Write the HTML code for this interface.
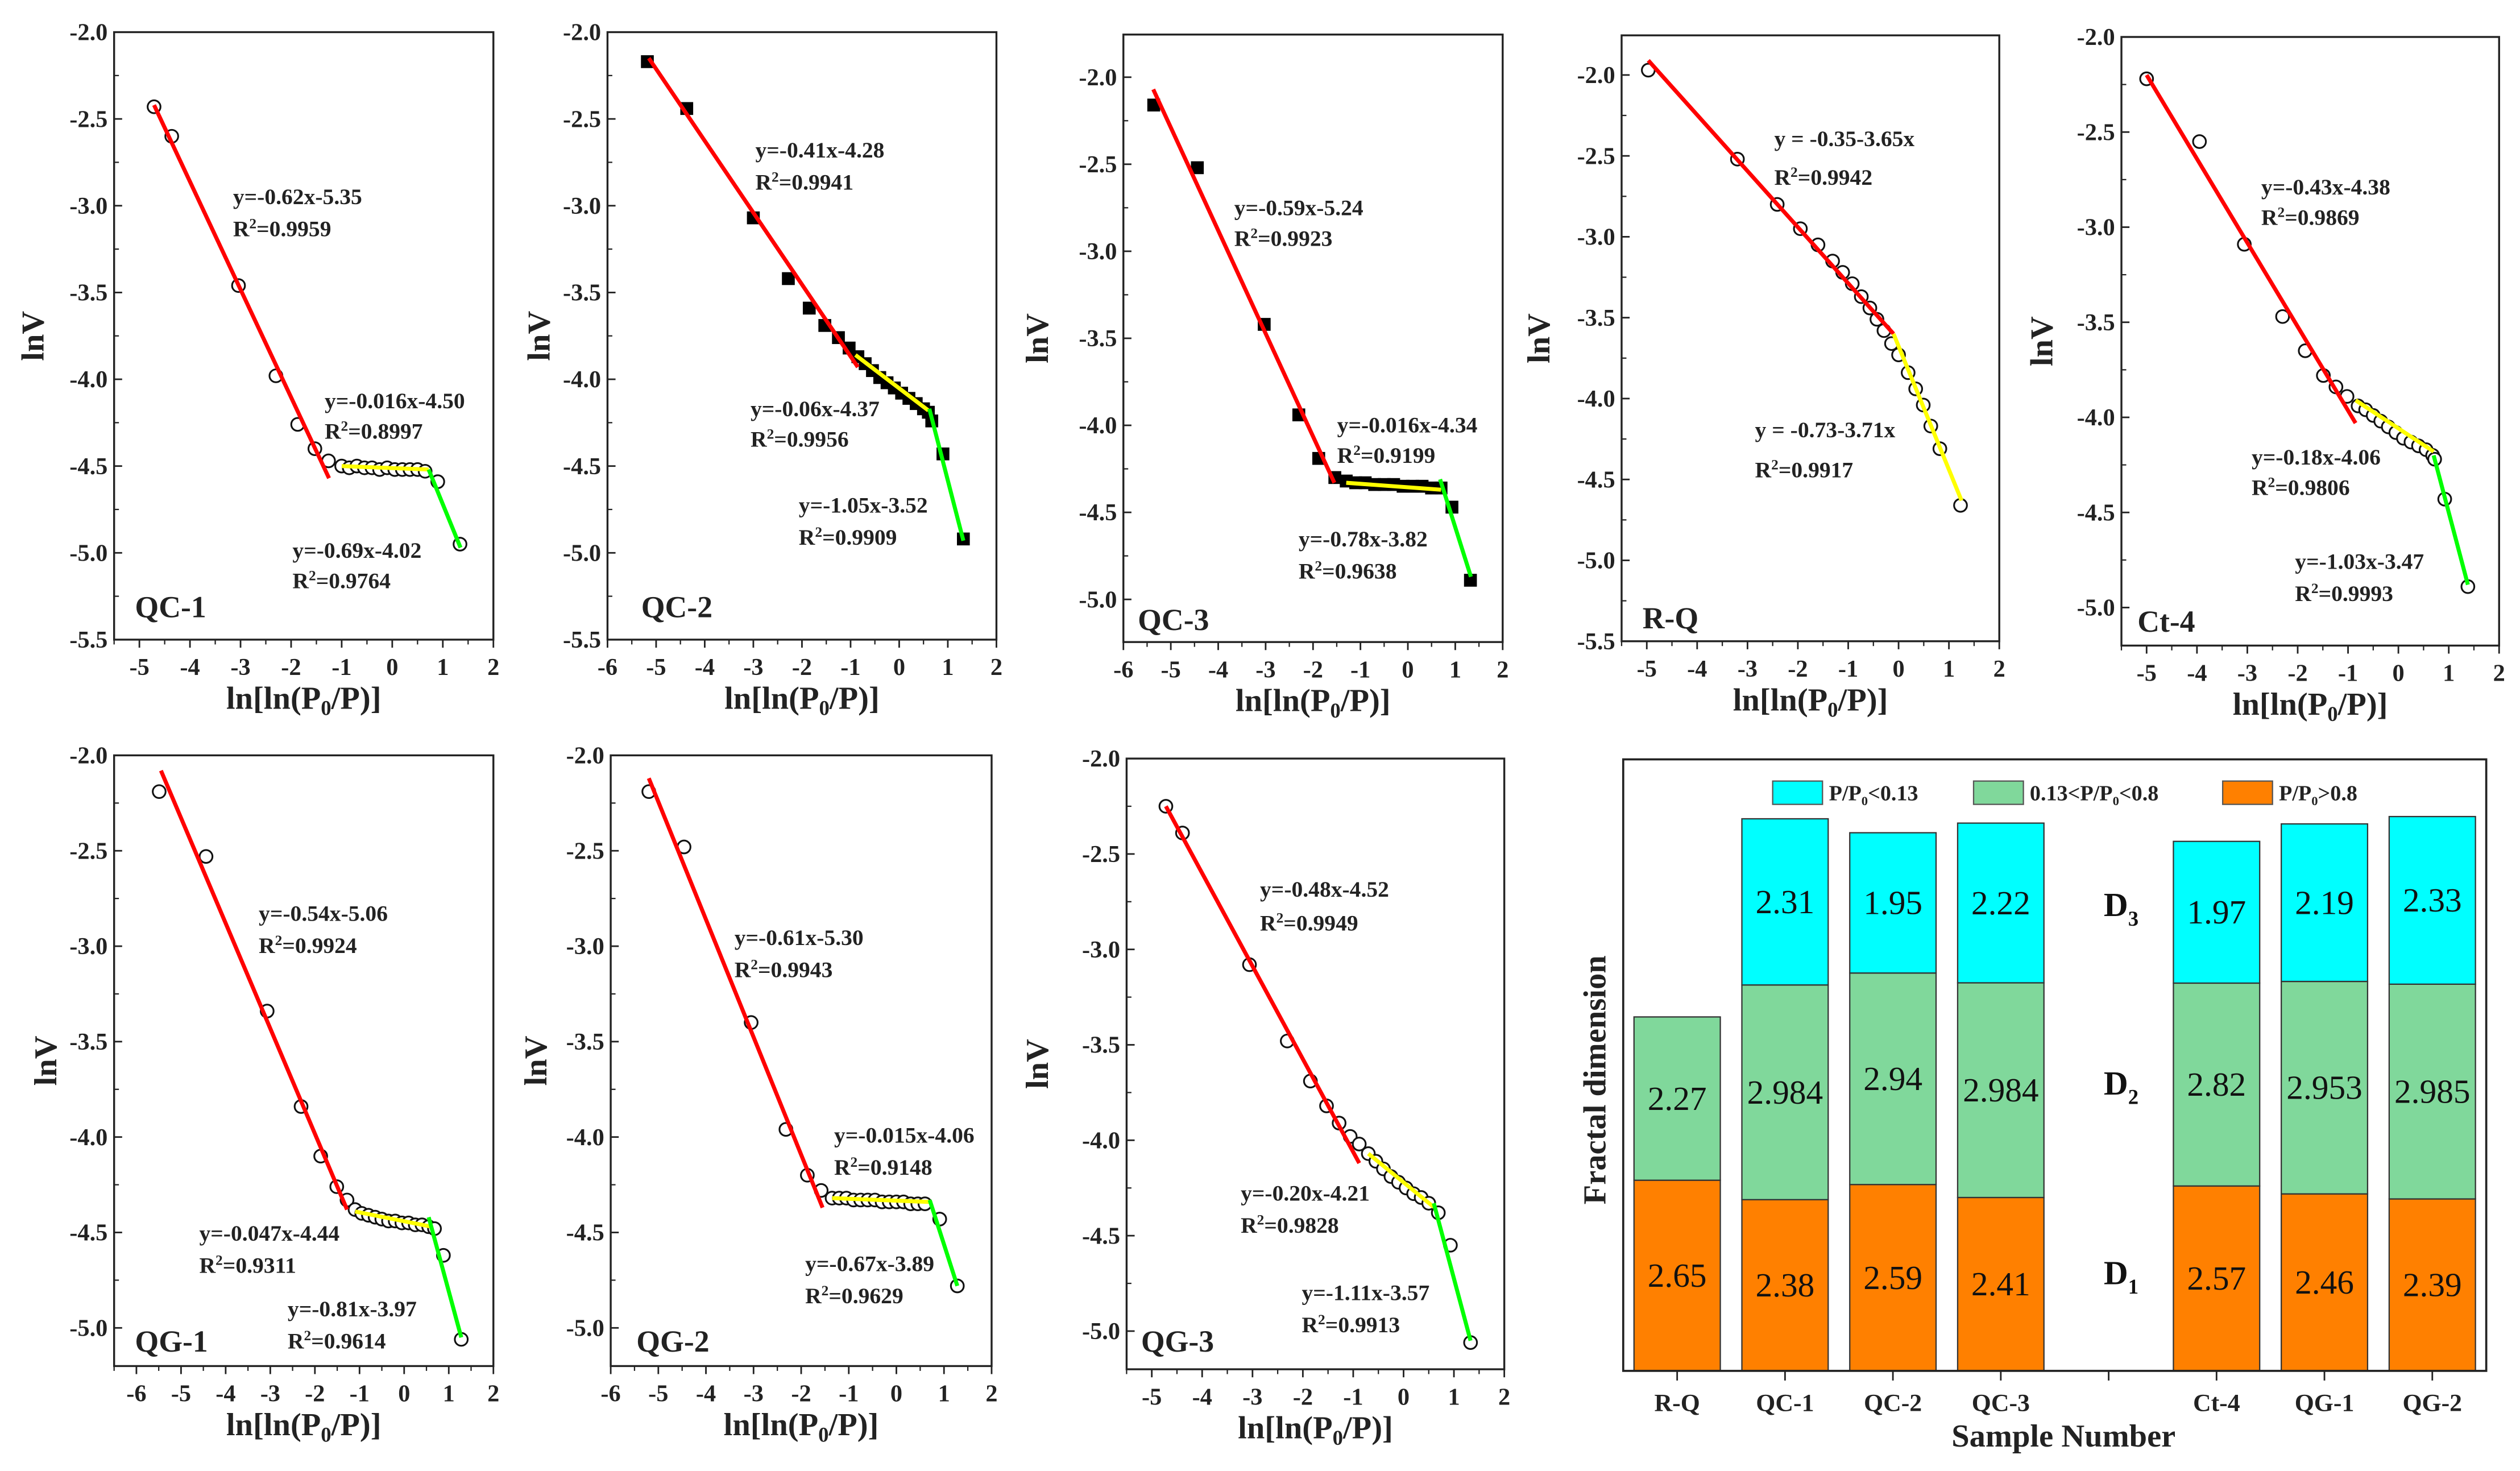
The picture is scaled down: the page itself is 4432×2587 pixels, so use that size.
<!DOCTYPE html>
<html><head><meta charset="utf-8"><style>
html,body{margin:0;padding:0;background:#fff;}
svg{display:block;}
text{font-family:"Liberation Serif",serif;}
</style></head><body>
<svg id="fig" xmlns="http://www.w3.org/2000/svg" width="4432" height="2587" viewBox="0 0 1568 915.3" preserveAspectRatio="none">
<rect x="0" y="0" width="1568" height="915.3" fill="#fff"/>
</svg>
<script>
// ---------- scatter data ----------
const qc1X=[-4.71,-4.36,-3.04,-2.30,-1.87,-1.53,-1.26,-1.0,-0.85,-0.7,-0.55,-0.4,-0.25,-0.1,0.05,0.2,0.35,0.5,0.65,0.90,1.34];
const qc1Y=[-2.43,-2.60,-3.46,-3.98,-4.26,-4.40,-4.47,-4.50,-4.51,-4.50,-4.51,-4.51,-4.52,-4.51,-4.52,-4.52,-4.52,-4.52,-4.53,-4.59,-4.95];
const qc1Fits=[[-4.71,-2.42,-1.25,-4.57],[-1.0,-4.50,0.72,-4.52],[0.72,-4.52,1.35,-4.97]];

const qc2X=[-5.18,-4.37,-3.0,-2.28,-1.85,-1.53,-1.25,-1.03,-0.85,-0.7,-0.55,-0.4,-0.25,-0.1,0.05,0.2,0.35,0.5,0.6,0.67,0.9,1.32];
const qc2Y=[-2.17,-2.44,-3.07,-3.42,-3.59,-3.69,-3.76,-3.82,-3.87,-3.91,-3.95,-3.99,-4.02,-4.05,-4.08,-4.11,-4.14,-4.17,-4.19,-4.24,-4.43,-4.92];
const qc2Fits=[[-5.15,-2.15,-0.85,-3.93],[-0.9,-3.86,0.6,-4.18],[0.62,-4.17,1.32,-4.93]];

const qc3X=[-5.36,-4.44,-3.03,-2.3,-1.88,-1.54,-1.3,-1.1,-0.9,-0.7,-0.5,-0.3,-0.1,0.1,0.3,0.5,0.7,0.93,1.32];
const qc3Y=[-2.16,-2.52,-3.42,-3.94,-4.19,-4.30,-4.32,-4.33,-4.33,-4.34,-4.34,-4.34,-4.35,-4.35,-4.35,-4.36,-4.36,-4.47,-4.89];
const qc3Fits=[[-5.37,-2.07,-1.55,-4.33],[-1.3,-4.33,0.7,-4.37],[0.68,-4.31,1.33,-4.87]];

const rqX=[-4.97,-3.2,-2.41,-1.95,-1.6,-1.31,-1.11,-0.92,-0.74,-0.57,-0.43,-0.29,-0.14,0.0,0.19,0.34,0.49,0.64,0.82,1.23];
const rqY=[-1.97,-2.52,-2.80,-2.95,-3.05,-3.15,-3.22,-3.29,-3.37,-3.44,-3.51,-3.58,-3.66,-3.73,-3.84,-3.94,-4.04,-4.17,-4.31,-4.66];
const rqFits=[[-4.97,-1.91,-0.1,-3.6],[-0.1,-3.6,1.25,-4.63]];

const ct4X=[-5.0,-3.95,-3.06,-2.30,-1.85,-1.49,-1.24,-1.02,-0.8,-0.65,-0.5,-0.35,-0.2,-0.05,0.1,0.25,0.4,0.55,0.68,0.72,0.92,1.38];
const ct4Y=[-2.22,-2.55,-3.09,-3.47,-3.65,-3.78,-3.84,-3.89,-3.94,-3.96,-3.99,-4.02,-4.05,-4.08,-4.11,-4.13,-4.15,-4.17,-4.20,-4.22,-4.43,-4.89];
const ct4Fits=[[-5.0,-2.2,-0.85,-4.03],[-0.85,-3.91,0.7,-4.18],[0.7,-4.2,1.38,-4.88]];

const qg1X=[-5.49,-4.44,-3.07,-2.31,-1.87,-1.51,-1.28,-1.1,-0.95,-0.8,-0.65,-0.5,-0.35,-0.2,-0.05,0.1,0.25,0.4,0.55,0.68,0.88,1.28];
const qg1Y=[-2.19,-2.53,-3.34,-3.84,-4.10,-4.26,-4.33,-4.38,-4.40,-4.41,-4.42,-4.43,-4.44,-4.44,-4.45,-4.45,-4.46,-4.46,-4.47,-4.48,-4.62,-5.06];
const qg1Fits=[[-5.45,-2.08,-1.28,-4.38],[-1.1,-4.39,0.62,-4.47],[0.55,-4.42,1.28,-5.05]];

const qg2X=[-5.2,-4.46,-3.05,-2.32,-1.87,-1.58,-1.35,-1.2,-1.05,-0.9,-0.75,-0.6,-0.45,-0.3,-0.15,0.0,0.15,0.3,0.45,0.6,0.91,1.28];
const qg2Y=[-2.19,-2.48,-3.40,-3.96,-4.20,-4.28,-4.32,-4.32,-4.32,-4.33,-4.33,-4.33,-4.33,-4.34,-4.34,-4.34,-4.34,-4.35,-4.35,-4.35,-4.43,-4.78];
const qg2Fits=[[-5.2,-2.12,-1.55,-4.37],[-1.35,-4.32,0.7,-4.34],[0.7,-4.33,1.28,-4.78]];

const qg3X=[-4.72,-4.39,-3.06,-2.31,-1.85,-1.53,-1.28,-1.06,-0.88,-0.7,-0.55,-0.4,-0.25,-0.1,0.05,0.2,0.35,0.5,0.69,0.93,1.33];
const qg3Y=[-2.25,-2.39,-3.08,-3.48,-3.69,-3.82,-3.91,-3.98,-4.02,-4.07,-4.11,-4.15,-4.19,-4.22,-4.25,-4.28,-4.30,-4.33,-4.38,-4.55,-5.06];
const qg3Fits=[[-4.72,-2.25,-0.88,-4.12],[-0.7,-4.07,0.6,-4.35],[0.6,-4.33,1.33,-5.05]];

// ---------- bar chart data ----------
const barCategories=['R-Q','QC-1','QC-2','QC-3','','Ct-4','QG-1','QG-2'];
const barD1=[2.65,2.38,2.59,2.41,0,2.57,2.46,2.39];
const barD2=[2.27,2.984,2.94,2.984,0,2.82,2.953,2.985];
const barD3=[0,2.31,1.95,2.22,0,1.97,2.19,2.33];
const barD1Labels=['2.65','2.38','2.59','2.41','','2.57','2.46','2.39'];
const barD2Labels=['2.27','2.984','2.94','2.984','','2.82','2.953','2.985'];
const barD3Labels=['','2.31','1.95','2.22','','1.97','2.19','2.33'];
const legendLabels=['P/P0<0.13','0.13<P/P0<0.8','P/P0>0.8'];

const NS='http://www.w3.org/2000/svg';
const svg=document.getElementById('fig');
function mk(tag,attrs,parent){const e=document.createElementNS(NS,tag);for(const k in attrs)e.setAttribute(k,attrs[k]);(parent||svg).appendChild(e);return e;}
function esc(s){return s.replace(/&/g,'&amp;').replace(/</g,'&lt;').replace(/>/g,'&gt;');}

const FITCOL=['#ff0000','#ffff00','#00ff00'];
const panels=[
 {id:'qc-1',name:'QC-1',x1:71,x2:307,y1:20,y2:398,xmin:-5.5,xmax:2,ymax:-2.0,ymin:-5.5,yt0:-2.0,yt1:-5.5,X:qc1X,Y:qc1Y,F:qc1Fits,sq:false,
  ann:[['y=-0.62x-5.35','0.9959',145,127,147],['y=-0.016x-4.50','0.8997',202,254,273],['y=-0.69x-4.02','0.9764',182,347,366]],lab:[84,384],ly:20},
 {id:'qc-2',name:'QC-2',x1:378,x2:620,y1:20,y2:398,xmin:-6,xmax:2,ymax:-2.0,ymin:-5.5,yt0:-2.0,yt1:-5.5,X:qc2X,Y:qc2Y,F:qc2Fits,sq:true,
  ann:[['y=-0.41x-4.28','0.9941',470,98,118],['y=-0.06x-4.37','0.9956',467,259,278],['y=-1.05x-3.52','0.9909',497,319,339]],lab:[399,384],ly:335},
 {id:'qc-3',name:'QC-3',x1:699,x2:935,y1:21.5,y2:399.5,xmin:-6,xmax:2,ymax:-1.755,ymin:-5.245,yt0:-2.0,yt1:-5.0,X:qc3X,Y:qc3Y,F:qc3Fits,sq:true,
  ann:[['y=-0.59x-5.24','0.9923',768,134,153],['y=-0.016x-4.34','0.9199',832,269,288],['y=-0.78x-3.82','0.9638',808,340,360]],lab:[708,392],ly:645},
 {id:'r-q',name:'R-Q',x1:1009,x2:1244,y1:22,y2:399,xmin:-5.5,xmax:2,ymax:-1.755,ymin:-5.5,yt0:-2.0,yt1:-5.5,X:rqX,Y:rqY,F:rqFits,sq:false,fitCols:['#ff0000','#ffff00'],
  ann:[['y = -0.35-3.65x','0.9942',1104,91,115],['y = -0.73-3.71x','0.9917',1092,272,297]],lab:[1022,391],ly:957},
 {id:'ct-4',name:'Ct-4',x1:1320,x2:1555,y1:23,y2:401.7,xmin:-5.5,xmax:2,ymax:-2.0,ymin:-5.2,yt0:-2.0,yt1:-5.0,X:ct4X,Y:ct4Y,F:ct4Fits,sq:false,
  ann:[['y=-0.43x-4.38','0.9869',1407,121,140],['y=-0.18x-4.06','0.9806',1401,289,308],['y=-1.03x-3.47','0.9993',1428,354,374]],lab:[1330,393],ly:1270},
 {id:'qg-1',name:'QG-1',x1:71,x2:307,y1:470,y2:850,xmin:-6.5,xmax:2,ymax:-2.0,ymin:-5.2,yt0:-2.0,yt1:-5.0,X:qg1X,Y:qg1Y,F:qg1Fits,sq:false,
  ann:[['y=-0.54x-5.06','0.9924',161,573,593],['y=-0.047x-4.44','0.9311',124,772,792],['y=-0.81x-3.97','0.9614',179,819,839]],lab:[84,841],ly:28},
 {id:'qg-2',name:'QG-2',x1:380,x2:617,y1:470,y2:850,xmin:-6,xmax:2,ymax:-2.0,ymin:-5.2,yt0:-2.0,yt1:-5.0,X:qg2X,Y:qg2Y,F:qg2Fits,sq:false,
  ann:[['y=-0.61x-5.30','0.9943',457,588,608],['y=-0.015x-4.06','0.9148',519,711,731],['y=-0.67x-3.89','0.9629',501,791,811]],lab:[396,841],ly:333},
 {id:'qg-3',name:'QG-3',x1:701,x2:936,y1:472,y2:852,xmin:-5.5,xmax:2,ymax:-2.0,ymin:-5.2,yt0:-2.0,yt1:-5.0,X:qg3X,Y:qg3Y,F:qg3Fits,sq:false,
  ann:[['y=-0.48x-4.52','0.9949',784,558,579],['y=-0.20x-4.21','0.9828',772,747,767],['y=-1.11x-3.57','0.9913',810,809,829]],lab:[710,841],ly:645}
];

panels.forEach(p=>{
  const g=mk('g',{});
  
  
  const sx=v=>p.x1+(v-p.xmin)/(p.xmax-p.xmin)*(p.x2-p.x1);
  const sy=v=>p.y1+(p.ymax-v)/(p.ymax-p.ymin)*(p.y2-p.y1);
  const fr=mk('rect',{x:p.x1,y:p.y1,width:p.x2-p.x1,height:p.y2-p.y1,fill:'none',stroke:'#222','stroke-width':1.2},g);
  
  
  for(let v=p.yt0; v>=p.yt1-1e-6; v-=0.5){
    const y=sy(v);
    const t=mk('line',{x1:p.x1,x2:p.x1+5,y1:y,y2:y,stroke:'#222','stroke-width':1},g);
    
    
    const m=sy(v-0.25);
    if(m<p.y2-1) mk('line',{x1:p.x1,x2:p.x1+3,y1:m,y2:m,stroke:'#222','stroke-width':0.8},g);
    const tl=mk('text',{x:p.x1-4,y:y+5,'text-anchor':'end','font-size':15,'font-weight':'bold',fill:'#222'},g);
    tl.textContent=v.toFixed(1);
    
    
  }
  for(let v=Math.ceil(p.xmin); v<=p.xmax+1e-6; v++){
    const x=sx(v);
    const t=mk('line',{x1:x,x2:x,y1:p.y2,y2:p.y2+5,stroke:'#222','stroke-width':1},g);
    
    
    if(v-0.5>=p.xmin){const m=sx(v-0.5);mk('line',{x1:m,x2:m,y1:p.y2,y2:p.y2+3,stroke:'#222','stroke-width':0.8},g);}
    const tl=mk('text',{x:x,y:p.y2+22,'text-anchor':'middle','font-size':15,'font-weight':'bold',fill:'#222'},g);
    tl.textContent=String(v);
    
    
  }
  const xt=mk('text',{x:(p.x1+p.x2)/2,y:p.y2+43,'text-anchor':'middle','font-size':20,'font-weight':'bold',fill:'#222'},g);
  xt.innerHTML='ln[ln(P<tspan font-size="13" dy="4">0</tspan><tspan dy="-4">/P)]</tspan>';
  
  
  const ymid=(p.y1+p.y2)/2;
  const yt=mk('text',{x:p.ly+7,y:ymid,'text-anchor':'middle','font-size':20,'font-weight':'bold',fill:'#222',transform:`rotate(-90 ${p.ly+7} ${ymid})`},g);
  yt.textContent='lnV';
  
  
  p.X.forEach((xv,i)=>{
    let m;
    if(p.sq){ m=mk('rect',{x:sx(xv)-4,y:sy(p.Y[i])-4,width:8,height:8,fill:'#000'},g); }
    else { m=mk('circle',{cx:sx(xv),cy:sy(p.Y[i]),r:4,fill:'#fff',stroke:'#111','stroke-width':1.1},g); }
    
    
  });
  const cols=p.fitCols||FITCOL;
  p.F.forEach((f,i)=>{
    const l=mk('line',{x1:sx(f[0]),y1:sy(f[1]),x2:sx(f[2]),y2:sy(f[3]),stroke:cols[i],'stroke-width':2.5},g);
    
    
  });
  p.ann.forEach(a=>{
    const t1=mk('text',{x:a[2],y:a[3],'font-size':14,'font-weight':'bold',fill:'#222'},g);
    t1.textContent=a[0];
    
    
    const t2=mk('text',{x:a[2],y:a[4],'font-size':14,'font-weight':'bold',fill:'#222'},g);
    t2.innerHTML='R<tspan font-size="9" dy="-5">2</tspan><tspan dy="5">='+a[1]+'</tspan>';
    
    
  });
  const pl=mk('text',{x:p.lab[0],y:p.lab[1],'font-size':19,'font-weight':'bold',fill:'#222'},g);
  pl.textContent=p.name;
  
  
});

// ---------- stacked bar chart ----------
(function(){
  const bx1=1010,bx2=1547,by1=472.5,by2=853,ymaxV=8.5;
  const g=mk('g',{});
  
  
  const slot=(bx2-bx1)/barCategories.length;
  const cx=i=>bx1+slot*(i+0.5);
  const sy=v=>by2-v/ymaxV*(by2-by1);
  const bw=slot*0.8;
  const cols=['#ff8000','#80d89b','#00ffff'];
  const series=[barD1,barD2,barD3];
  const labs=[barD1Labels,barD2Labels,barD3Labels];
  barCategories.forEach((c,i)=>{
    let base=0;
    series.forEach((s,k)=>{
      const v=s[i]; if(!v) return;
      const r=mk('rect',{x:cx(i)-bw/2,y:sy(base+v),width:bw,height:sy(base)-sy(base+v),fill:cols[k],stroke:'#333','stroke-width':0.8},g);
      
      
      const t=mk('text',{x:cx(i),y:(sy(base)+sy(base+v))/2+7,'text-anchor':'middle','font-size':21,fill:'#111'},g);
      t.textContent=labs[k][i];
      
      
      base+=v;
    });
    const tk=mk('line',{x1:cx(i),x2:cx(i),y1:by2,y2:by2+6,stroke:'#222','stroke-width':1},g);
    
    
    const tl=mk('text',{x:cx(i),y:by2+25,'text-anchor':'middle','font-size':15.5,'font-weight':'bold',fill:'#222'},g);
    tl.textContent=c;
    
    
  });
  const fr=mk('rect',{x:bx1,y:by1,width:bx2-bx1,height:by2-by1,fill:'none',stroke:'#222','stroke-width':1.3},g);
  
  
  [['D','3',570],['D','2',681],['D','1',799]].forEach(d=>{
    const t=mk('text',{x:1309,y:d[2],'font-size':21,'font-weight':'bold',fill:'#111'},g);
    t.innerHTML=d[0]+'<tspan font-size="13" dy="6">'+d[1]+'</tspan>';
    
    
  });
  const lx=[1103,1228,1383];
  const lcols=['#00ffff','#80d89b','#ff8000'];
  legendLabels.forEach((l,i)=>{
    const r=mk('rect',{x:lx[i],y:486,width:31,height:14.5,fill:lcols[i],stroke:'#555','stroke-width':0.8},g);
    
    
    const t=mk('text',{x:lx[i]+35,y:498,'font-size':13.5,'font-weight':'bold',fill:'#222'},g);
    const parts=l.split('P0');
    t.innerHTML=esc(parts[0])+'P<tspan font-size="8" dy="3">0</tspan><tspan dy="-3">'+esc(parts[1])+'</tspan>';
    
    
  });
  const xt=mk('text',{x:1284,y:900,'text-anchor':'middle','font-size':20,'font-weight':'bold',fill:'#222'},g);
  xt.textContent='Sample Number';
  
  
  const yt=mk('text',{x:999,y:672,'text-anchor':'middle','font-size':20,'font-weight':'bold',fill:'#222',transform:'rotate(-90 999 672)'},g);
  yt.textContent='Fractal dimension';
  
  
})();
</script>
</body></html>
